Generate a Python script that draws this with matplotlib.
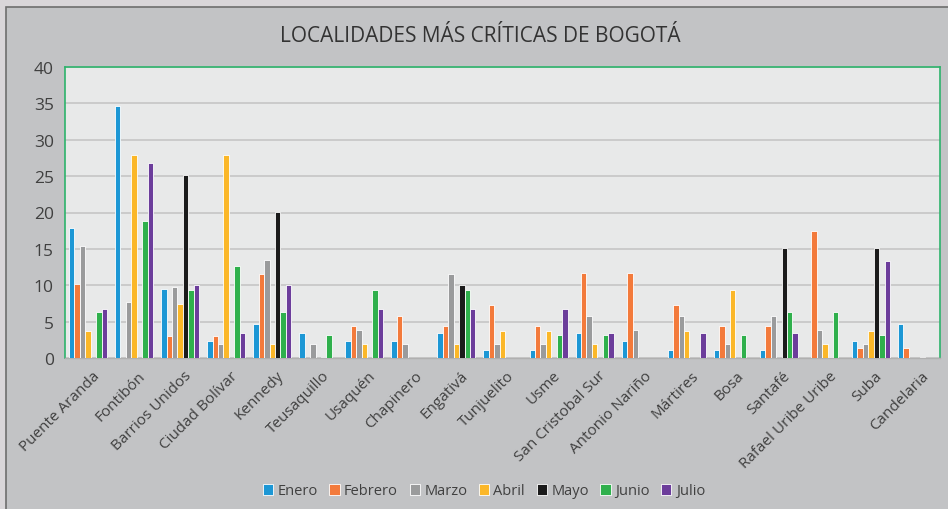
import matplotlib
matplotlib.use("Agg")
import matplotlib.pyplot as plt
import matplotlib.transforms as mtransforms
import numpy as np
from matplotlib.patches import Rectangle

plt.rcParams['font.family'] = ['Open Sans', 'DejaVu Sans']

categories = ["Puente Aranda", "Fontibón", "Barrios Unidos", "Ciudad Bolívar", "Kennedy",
              "Teusaquillo", "Usaquén", "Chapinero", "Engativá", "Tunjuelito", "Usme",
              "San Cristobal Sur", "Antonio Nariño", "Mártires", "Bosa", "Santafé",
              "Rafael Uribe Uribe", "Suba", "Candelaria"]

enero   = [17.9, 34.6, 9.5, 2.4, 4.7, 3.5, 2.4, 2.4, 3.5, 1.1, 1.1, 3.5, 2.4, 1.1, 1.1, 1.1, 0.0, 2.4, 4.7]
febrero = [10.2, 0.0, 3.0, 3.0, 11.6, 0.0, 4.4, 5.8, 4.4, 7.3, 4.4, 11.7, 11.7, 7.3, 4.4, 4.4, 17.5, 1.4, 1.4]
marzo   = [15.4, 7.7, 9.7, 1.9, 13.5, 1.9, 3.8, 1.9, 11.6, 1.9, 1.9, 5.8, 3.8, 5.8, 1.9, 5.8, 3.8, 1.9, 0.0]
abril   = [3.7, 27.9, 7.4, 27.9, 1.9, 0.0, 1.9, 0.0, 1.9, 3.7, 3.7, 1.9, 0.0, 3.7, 9.3, 0.0, 1.9, 3.7, 0.0]
mayo    = [0.0, 0.0, 25.1, 0.0, 20.1, 0.2, 0.0, 0.0, 10.1, 0.0, 0.0, 0.0, 0.0, 0.0, 0.0, 15.1, 0.2, 15.1, 0.2]
junio   = [6.3, 18.8, 9.4, 12.6, 6.3, 3.1, 9.4, 0.0, 9.4, 0.0, 3.1, 3.1, 0.0, 0.0, 3.1, 6.3, 6.3, 3.1, 0.0]
julio   = [6.8, 26.8, 10.1, 3.4, 10.1, 0.0, 6.8, 0.0, 6.8, 0.0, 6.8, 3.4, 0.0, 3.4, 0.0, 3.4, 0.0, 13.4, 0.0]

series_names = ["Enero", "Febrero", "Marzo", "Abril", "Mayo", "Junio", "Julio"]
series = [enero, febrero, marzo, abril, mayo, junio, julio]
colors = ["#1c97d5", "#f37a3b", "#9a9b9c", "#fbb728", "#1b1b1b", "#2fb04c", "#6c3d9b"]
yticks = [0, 5, 10, 15, 20, 25, 30, 35, 40]

W, H = 948, 510
fig = plt.figure(figsize=(W / 100, H / 100), dpi=100)
fig.patch.set_facecolor("#d9d6d9")
bg = fig.add_axes([0, 0, 1, 1], zorder=0)
bg.set_xlim(0, W)
bg.set_ylim(H, 0)
bg.axis("off")
bg.add_patch(Rectangle((6, 8), W + 10, H + 10, facecolor="#c2c3c5", edgecolor="#6e6e6e",
                       linewidth=1.2))

ax = fig.add_axes([65 / W, (H - 359) / H, (940 - 65) / W, (359 - 68) / H], zorder=2)
ax.set_facecolor("#e8e9e9")

n = len(categories)
x = np.arange(n)
bw = 0.118
for i, (name, vals, c) in enumerate(zip(series_names, series, colors)):
    ax.bar(x + (i - 3) * bw, vals, width=bw, color=c, edgecolor="white",
           linewidth=0.6, label=name, zorder=3)

ax.set_xlim(-0.5, n - 0.5)
ax.set_ylim(0, 40)
ax.set_yticks(yticks)
ax.set_yticklabels([str(v) for v in yticks], fontsize=12.5, color="#404040")
ax.yaxis.grid(True, color="#c8c8c8", linewidth=1.3, zorder=0)
ax.set_axisbelow(True)
ax.tick_params(axis="y", length=0, pad=8)
ax.tick_params(axis="x", length=0, pad=7)
ax.set_xticks(x)
ax.set_xticklabels(categories, rotation=45, ha="right", rotation_mode="anchor",
                   fontsize=11, color="#404040")
offset = mtransforms.ScaledTranslation(4 / 100, 0, fig.dpi_scale_trans)
for lab in ax.get_xticklabels():
    lab.set_transform(lab.get_transform() + offset)
for s in ["top", "right", "left"]:
    ax.spines[s].set_color("#2db36b")
    ax.spines[s].set_linewidth(1.2)
ax.spines["bottom"].set_color("#b0b0b0")
ax.spines["bottom"].set_linewidth(1.0)

fig.text(480 / W, 1 - 36 / H, "LOCALIDADES MÁS CRÍTICAS DE BOGOTÁ", ha="center", va="center",
         fontsize=15, color="#333333")

handles, labels = ax.get_legend_handles_labels()
leg = fig.legend(handles, labels, loc="center", bbox_to_anchor=(484 / W, 1 - 492 / H),
                 ncol=7, frameon=False, fontsize=10.5, handlelength=0.7, handleheight=0.7,
                 handletextpad=0.3, columnspacing=0.8, labelcolor="#404040")

fig.savefig("out.png", dpi=100, facecolor=fig.get_facecolor())
